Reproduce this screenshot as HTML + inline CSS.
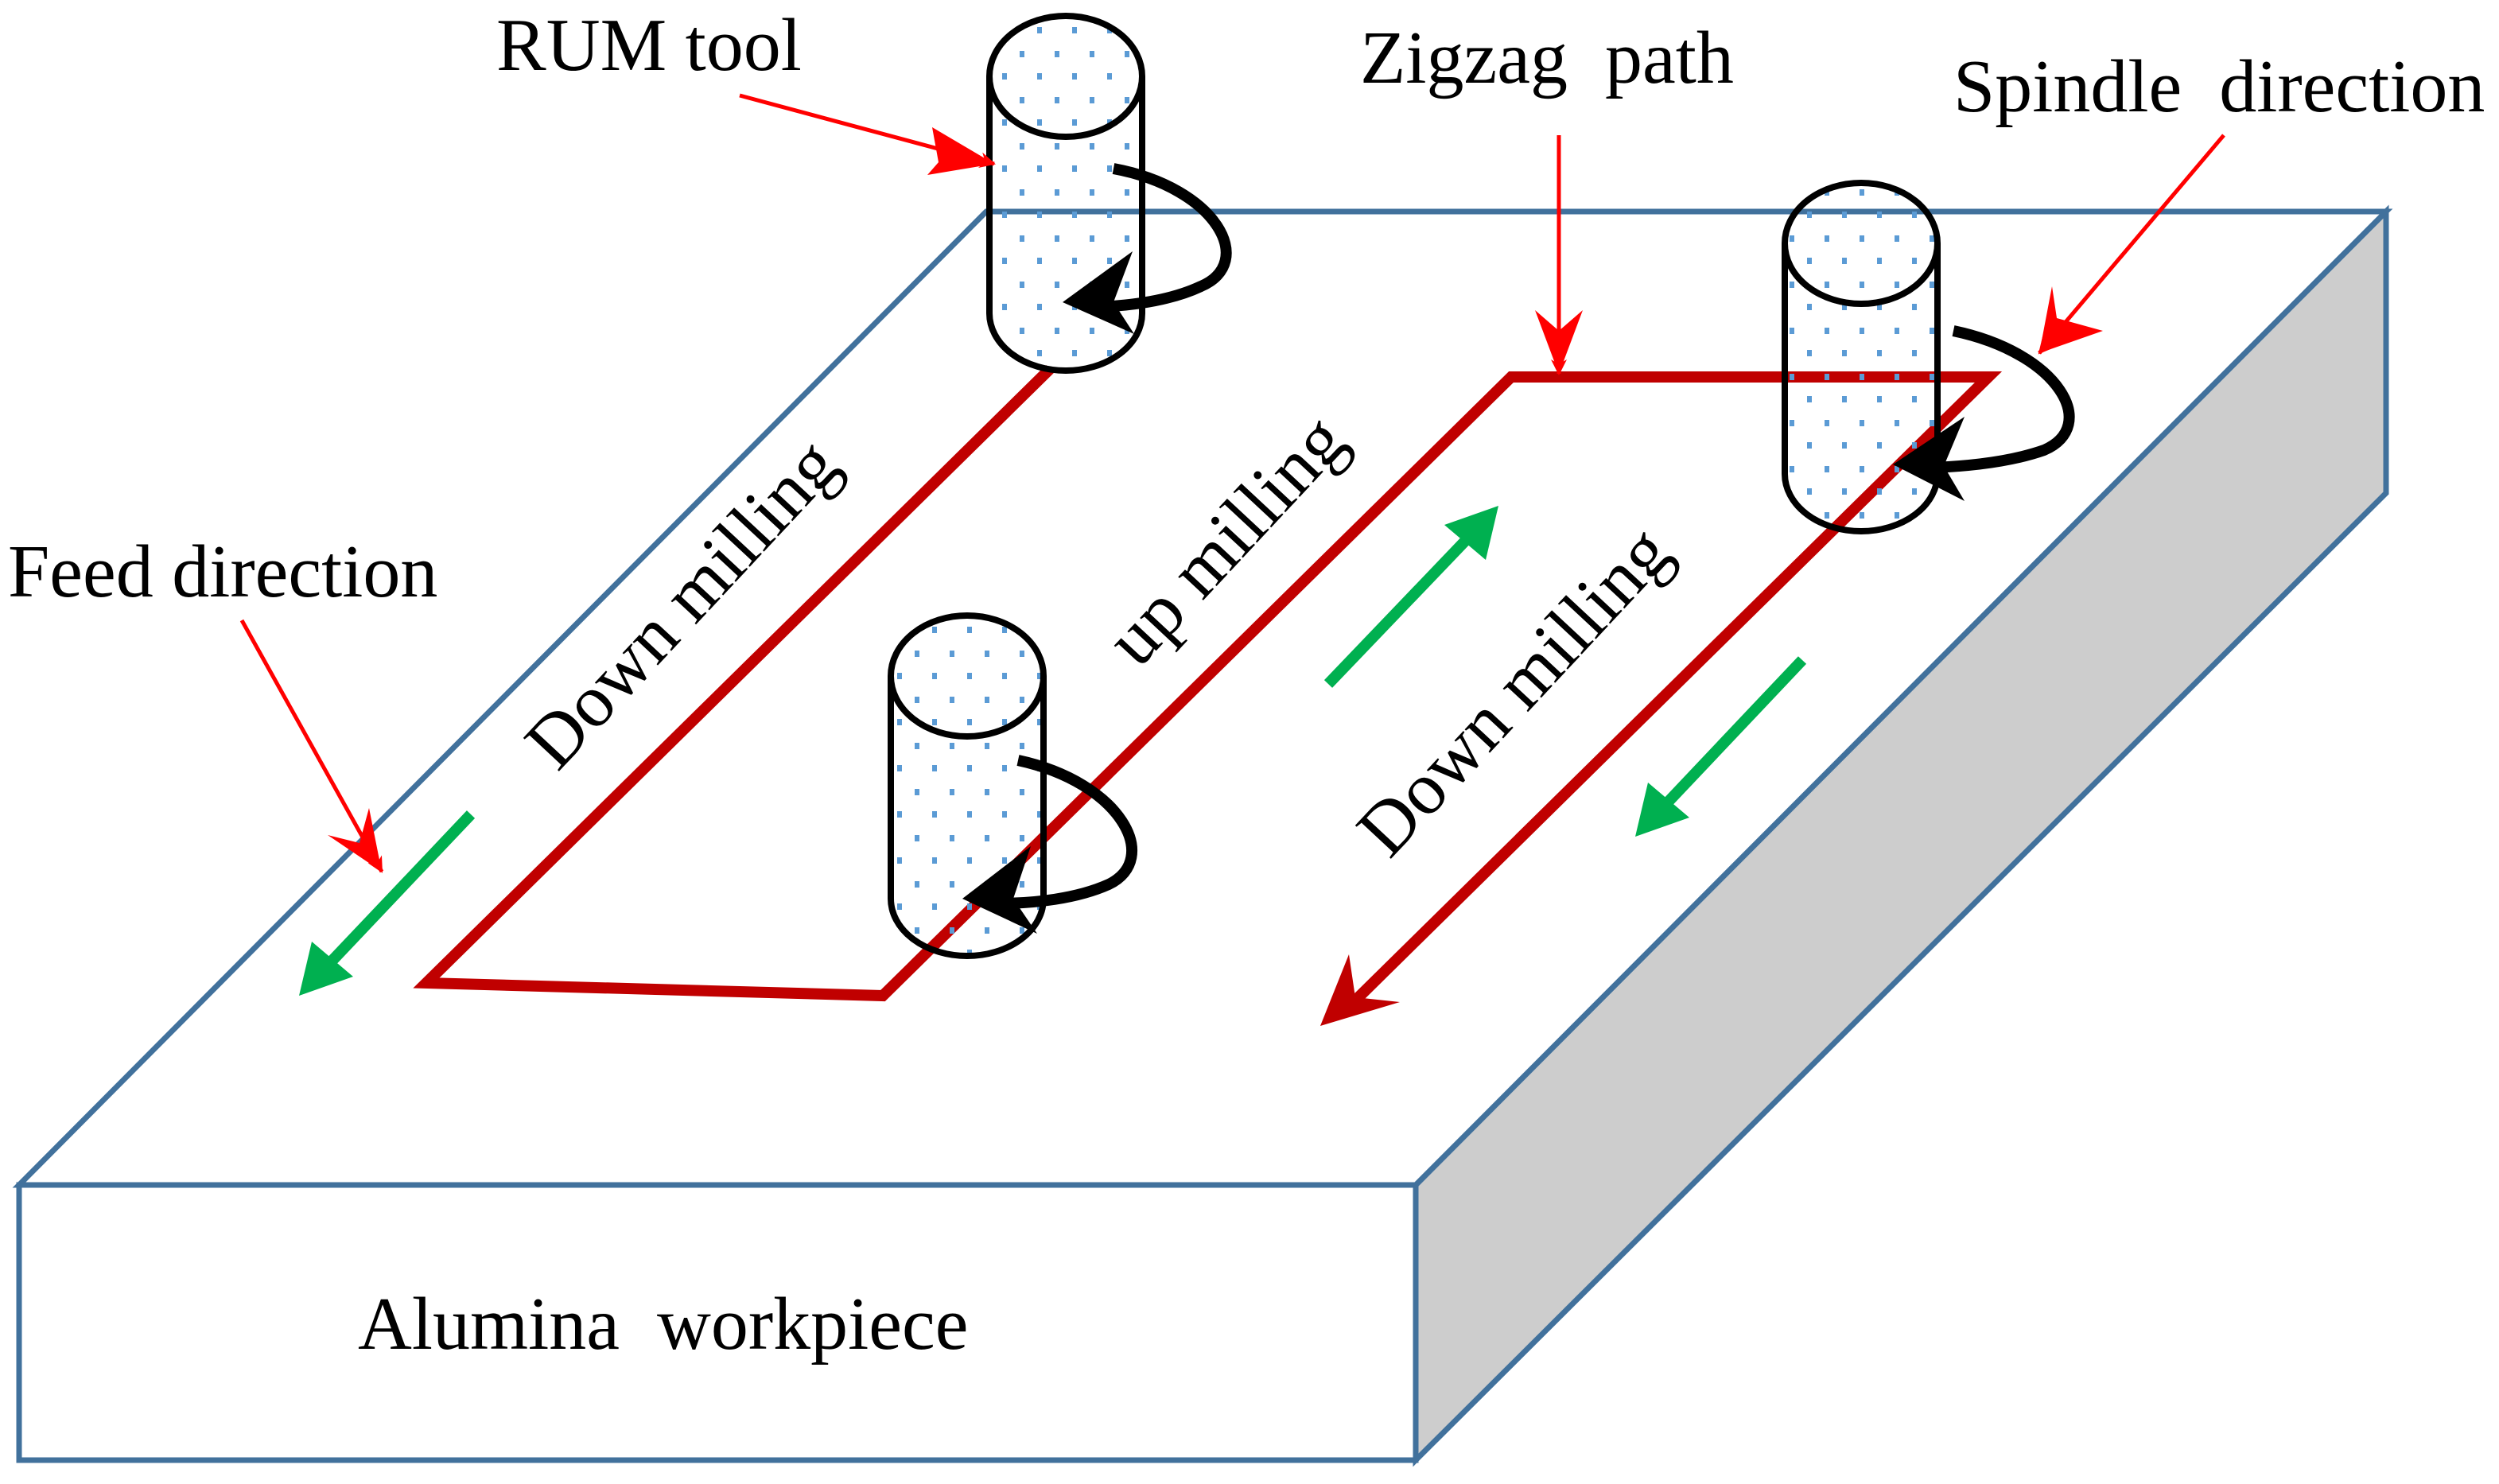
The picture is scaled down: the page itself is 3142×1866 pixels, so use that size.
<!DOCTYPE html>
<html><head><meta charset="utf-8"><style>
html,body{margin:0;padding:0;background:#fff}
svg{display:block}
text{font-family:"Liberation Serif",serif;fill:#000}
</style></head><body>
<svg width="3142" height="1866" viewBox="0 0 1571 933" xmlns="http://www.w3.org/2000/svg">
<defs>
<pattern id="dots" width="22" height="29" patternUnits="userSpaceOnUse">
<rect x="3" y="3" width="3" height="4" fill="#5B9BD5"/>
<rect x="14" y="17" width="3" height="4" fill="#5B9BD5"/>
</pattern>
<marker id="ra" markerWidth="10" markerHeight="10" refX="9" refY="5" orient="auto" markerUnits="userSpaceOnUse" viewBox="0 0 10 10"><path d="M0,0 L10,5 L0,10 L3,5z" fill="#f00"/></marker>
</defs>
<rect width="1571" height="933" fill="#fff"/>
<polygon points="890,745 1500,133 1500,310 890,918" fill="#CDCDCD" stroke="#41719C" stroke-width="3.5"/>
<polygon points="12,745 620,133 1500,133 890,745" fill="#fff" stroke="#41719C" stroke-width="3.5"/>
<rect x="12" y="745" width="878" height="173" fill="#fff" stroke="#41719C" stroke-width="3.5"/>
<polyline points="660,232 268,618 555,626 950,237 1250,237 853,628" fill="none" stroke="#C00000" stroke-width="7"/>
<polygon points="830,645 848,600 852,627 880,630" fill="#C00000"/>
<g stroke="#00B050" stroke-width="7" fill="#00B050">
<line x1="296" y1="512" x2="205" y2="608"/>
<polygon points="188,626 196,592 222,614" stroke="none"/>
<line x1="835" y1="430" x2="925" y2="336"/>
<polygon points="942,318 934,352 908,330" stroke="none"/>
<line x1="1133" y1="415" x2="1045" y2="508"/>
<polygon points="1028,526 1036,492 1062,514" stroke="none"/>
</g>
<g stroke="#000" stroke-width="4">
<path d="M622,48 L622,197 A48,36 0 0 0 718,197 L718,48" fill="url(#dots)"/>
<ellipse cx="670" cy="48" rx="48" ry="38" fill="url(#dots)"/>
<path d="M560,425 L560,565 A48,36 0 0 0 656,565 L656,425" fill="url(#dots)"/>
<ellipse cx="608" cy="425" rx="48" ry="38" fill="url(#dots)"/>
<path d="M1122,153 L1122,298 A48,36 0 0 0 1218,298 L1218,153" fill="url(#dots)"/>
<ellipse cx="1170" cy="153" rx="48" ry="38" fill="url(#dots)"/>
</g>
<g fill="none" stroke="#000" stroke-width="7">
<path d="M700,106 C765,118 790,165 755,180 C738,188 715,192 690,193"/>
<path d="M640,478 C705,492 730,540 697,556 C677,565 650,568 628,568"/>
<path d="M1228,208 C1295,222 1320,268 1285,283 C1265,290 1240,293 1215,294"/>
</g>
<g fill="#000">
<polygon points="668,190 712,158 700,190 713,210"/>
<polygon points="605,565 648,532 637,565 652,587"/>
<polygon points="1190,292 1235,262 1222,293 1235,315"/>
</g>
<g stroke="#f00" stroke-width="2.5" fill="none" marker-end="url(#ra)">
<line x1="465" y1="60" x2="625" y2="103"/>
<line x1="980" y1="85" x2="980" y2="235"/>
<line x1="1398" y1="85" x2="1282" y2="222"/>
<line x1="152" y1="390" x2="240" y2="548"/>
</g>
<polygon points="625,103 583,110 590,102 586,80" fill="#f00"/>
<polygon points="980,235 965,195 980,208 995,195" fill="#f00"/>
<polygon points="1282,222 1290,180 1293,200 1322,208" fill="#f00"/>
<polygon points="240,548 206,525 226,530 232,508" fill="#f00"/>
<g font-size="47">
<text x="312" y="44">RUM tool</text>
<text x="855" y="52" xml:space="preserve">Zigzag  path</text>
<text x="1228" y="70" xml:space="preserve">Spindle  direction</text>
<text x="5" y="375">Feed direction</text>
<text x="225" y="848" xml:space="preserve">Alumina  workpiece</text>
<text transform="translate(440,390) rotate(-47)" text-anchor="middle">Down milling</text>
<text transform="translate(782,350) rotate(-47)" text-anchor="middle">up milling</text>
<text transform="translate(963,445) rotate(-47)" text-anchor="middle">Down milling</text>
</g>
</svg>
</body></html>
